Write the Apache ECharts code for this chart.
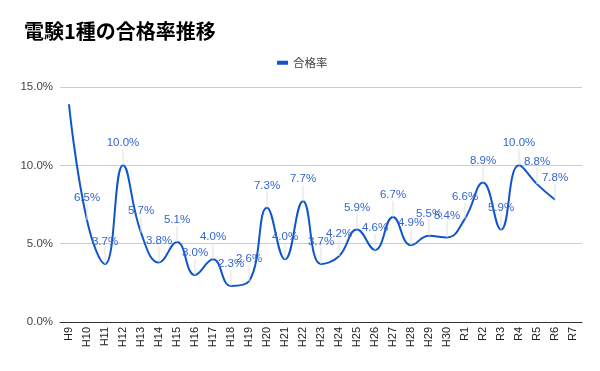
<!DOCTYPE html>
<html><head><meta charset="utf-8">
<script src="https://cdn.jsdelivr.net/npm/echarts@6/dist/echarts.min.js"></script>
<style>html,body{margin:0;padding:0;background:#fff}#c{width:600px;height:371px}</style>
</head><body><div id="c"></div>
<script>
const categories = ['H9','H10','H11','H12','H13','H14','H15','H16','H17','H18','H19','H20','H21','H22','H23','H24','H25','H26','H27','H28','H29','H30','R1','R2','R3','R4','R5','R6','R7'];
const passRate = [13.9,6.5,3.7,10.0,5.7,3.8,5.1,3.0,4.0,2.3,2.6,7.3,4.0,7.7,3.7,4.2,5.9,4.6,6.7,4.9,5.5,5.4,6.6,8.9,5.9,10.0,8.8,7.8,null];
const yTicks = [0,5,10,15];
const seriesName = '合格率';
const title = '電験1種の合格率推移';

const chart = echarts.init(document.getElementById('c'));
const fam = '"Noto Sans CJK JP", Roboto, Arial, sans-serif';
chart.setOption({
  animation:false,
  title:{text:title,left:19,top:16,textStyle:{fontSize:20,fontWeight:'bold',color:'#000',fontFamily:fam}},
  legend:{data:[seriesName],left:272,top:52,icon:'rect',itemWidth:11,itemHeight:4,itemGap:8,
    textStyle:{fontSize:11.5,color:'#444',fontFamily:fam}},
  grid:{left:60,right:18,top:87,bottom:49},
  xAxis:{type:'category',data:categories,boundaryGap:true,
    axisLine:{lineStyle:{color:'#333'}},axisTick:{show:false},
    axisLabel:{rotate:90,interval:0,fontSize:11,color:'#222',margin:5,fontFamily:'Arial, Liberation Sans, sans-serif'}},
  yAxis:{type:'value',min:yTicks[0],max:yTicks[yTicks.length-1],interval:5,
    axisLine:{show:false},axisTick:{show:false},
    splitLine:{lineStyle:{color:'#ccc'}},
    axisLabel:{formatter:v=>v.toFixed(1)+'%',fontSize:11.5,color:'#444',margin:7,fontFamily:'Arial, Liberation Sans, sans-serif'}},
  series:[{
    name:seriesName,type:'line',smooth:0.45,smoothMonotone:'none',showSymbol:true,symbol:'circle',symbolSize:0.1,
    lineStyle:{color:'#1155cc',width:2},itemStyle:{color:'#1155cc'},
    data:passRate.map((v,i)=> i===0 ? {value:v,label:{show:false}} : v),
    label:{show:true,position:'top',distance:3,formatter:p=>p.value==null?'':p.value.toFixed(1)+'%',
      fontSize:11.5,color:'#3366cc',fontFamily:'Arial, Liberation Sans, sans-serif'},
    labelLayout:{dy:-13},
    labelLine:{show:true,lineStyle:{color:'#e0e0e0',width:1}}
  }]
});
</script></body></html>
